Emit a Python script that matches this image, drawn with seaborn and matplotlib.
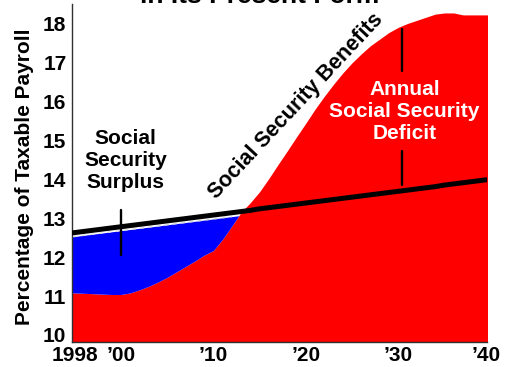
import numpy as np
import matplotlib
matplotlib.use("Agg")
import matplotlib.pyplot as plt
import seaborn as sns

# Social Security cost and income as a percentage of taxable payroll
years = [1994, 1995, 1996, 1997, 1998, 1999, 2000, 2001, 2002, 2003,
         2004, 2005, 2006, 2007, 2008, 2009, 2010, 2011, 2012, 2013,
         2014, 2015, 2016, 2017, 2018, 2019, 2020, 2021, 2022, 2023,
         2024, 2025, 2026, 2027, 2028, 2029, 2030, 2031, 2032, 2033,
         2034, 2035, 2036, 2037, 2038, 2039, 2040]

benefits = [11.08, 11.08, 11.07, 11.06, 11.05, 11.04, 11.04, 11.08, 11.16, 11.25,
            11.36, 11.48, 11.62, 11.76, 11.90, 12.05, 12.17, 12.46, 12.80, 13.15,
            13.40, 13.68, 14.02, 14.38, 14.73, 15.09, 15.44, 15.80, 16.13, 16.44,
            16.73, 16.99, 17.22, 17.43, 17.60, 17.77, 17.90, 18.00, 18.08, 18.16,
            18.24, 18.27, 18.27, 18.22, 18.22, 18.22, 18.22]

tax_income = [12.60, 12.63, 12.66, 12.69, 12.72, 12.75, 12.78, 12.81, 12.84, 12.87,
              12.90, 12.93, 12.96, 12.99, 13.02, 13.05, 13.08, 13.11, 13.14, 13.17,
              13.20, 13.24, 13.27, 13.30, 13.33, 13.36, 13.39, 13.42, 13.45, 13.48,
              13.51, 13.54, 13.57, 13.60, 13.63, 13.66, 13.69, 13.72, 13.75, 13.78,
              13.81, 13.85, 13.88, 13.91, 13.94, 13.97, 14.00]

tick_years = [1995, 2000, 2010, 2020, 2030, 2039.5]
tick_labels = ["1998", "\u201900", "\u201910", "\u201920", "\u201930", "\u201940"]
y_ticks = [10, 11, 12, 13, 14, 15, 16, 17, 18]

# bracket marks: (year, low, high)
surplus_mark = (2000, 12.05, 13.21)
deficit_marks = [(2030.4, 16.79, 17.86), (2030.4, 13.85, 14.73)]

sns.set_theme(style="white")
plt.rcParams["font.family"] = ["Liberation Sans", "DejaVu Sans"]
plt.rcParams["font.weight"] = "bold"

fig = plt.figure(figsize=(5.21, 3.67), dpi=100)
ax = fig.add_axes([72 / 521, 25 / 367, 415 / 521, 338 / 367])

x = np.array(years, dtype=float)
cost = np.array(benefits)
income = np.array(tax_income)
y_floor = 9.82

# deficit / benefit area
ax.fill_between(x, y_floor, cost, color="#ff0000", lw=0, zorder=1)
# surplus area between benefits and income
gap = 0.1
surplus = income - gap > cost
ax.fill_between(x, cost, income - gap, where=surplus, interpolate=True,
                color="#0000ff", lw=0, zorder=2)
edge = np.where(income - gap > cost - 0.05, income - gap, np.nan)
ax.plot(x, edge, color="#d8d8d8", lw=1.0, ls=(0, (3, 3)), zorder=3)

# tax income line
sns.lineplot(x=x, y=income, color="black", lw=3.6, ax=ax, zorder=4)

# bracket marks
ax.plot([surplus_mark[0]] * 2, surplus_mark[1:], color="black", lw=1.7, zorder=5)
for yr, lo, hi in deficit_marks:
    ax.plot([yr, yr], [lo, hi], color="black", lw=1.7, zorder=5)

ax.set_xlim(1994.7, 2039.6)
ax.set_ylim(y_floor, 18.5)
ax.set_xticks(tick_years)
ax.set_xticklabels(tick_labels)
ax.set_yticks(y_ticks)
ax.tick_params(axis="both", length=0, labelsize=15)
ax.tick_params(axis="x", pad=3)
ax.tick_params(axis="y", pad=4)
for lab in ax.get_xticklabels() + ax.get_yticklabels():
    lab.set_fontweight("bold")
    lab.set_color("black")

for side in ["top", "right"]:
    ax.spines[side].set_visible(False)
for side in ["left", "bottom"]:
    ax.spines[side].set_color("#303030")
    ax.spines[side].set_linewidth(1.0)

ax.set_ylabel("Percentage of Taxable Payroll", fontsize=15, fontweight="bold",
              color="black")
ax.yaxis.set_label_coords(-0.092, 0.49)

ax.text(2000.5, 14.47, "Social\nSecurity\nSurplus", ha="center", va="center",
        fontsize=15, fontweight="bold", color="black", linespacing=1.2, zorder=6)
ax.text(2030.66, 15.73, "Annual\nSocial Security\nDeficit", ha="center",
        va="center", fontsize=15, fontweight="bold", color="white",
        linespacing=1.2, zorder=6)
ax.text(2018.94, 15.89, "Social Security Benefits", ha="center", va="center",
        rotation=47, rotation_mode="anchor", fontsize=15.5, fontweight="bold",
        color="black", zorder=6)

fig.text(260 / 521, 1 - 3.3 / 367, "in Its Present Form", ha="center",
         va="baseline", fontsize=19, fontweight="bold", color="black")

fig.savefig("out.png", dpi=100)
